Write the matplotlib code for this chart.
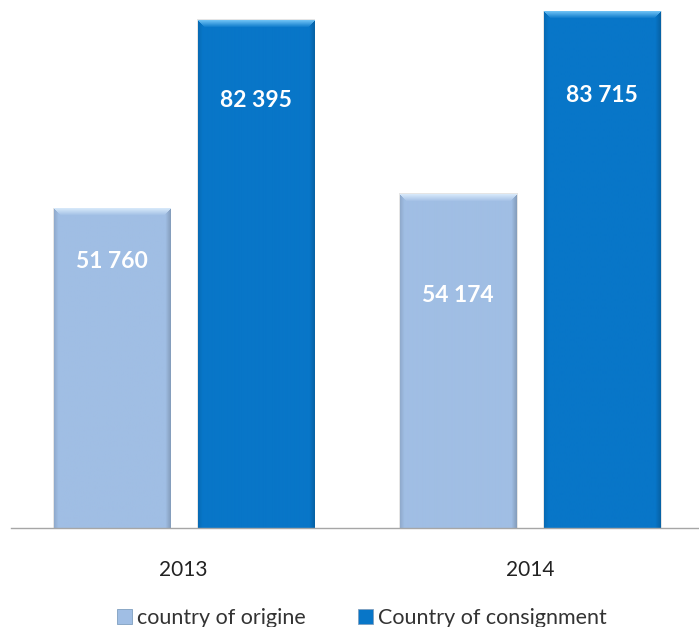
import numpy as np
import matplotlib
matplotlib.use("Agg")
import matplotlib.pyplot as plt
from matplotlib.colors import to_rgb
from matplotlib.patches import Rectangle

# Data
years = ["2013", "2014"]
series_names = ["country of origine", "Country of consignment"]
origin = [51760, 54174]
consignment = [82395, 83715]
label_texts_origin = ["51 760", "54 174"]
label_texts_consignment = ["82 395", "83 715"]

# Styling
colors = ["#A0BEE4", "#0876C8"]
highlights = ["#D6E8FA", "#6CC0F4"]
bar_width = 0.335
offset = 0.208

plt.rcParams["font.family"] = ["Lato", "DejaVu Sans"]

fig = plt.figure(figsize=(6.99, 6.27), dpi=100)
W, H = 699, 627
ax = fig.add_axes([10.5 / W, (H - 528) / H, 693 / W, 524 / H])
ax.set_xlim(-0.5, 1.5)
ax.set_ylim(0, 85000)

x = np.arange(len(years))
bars_o = ax.bar(x - offset, origin, width=bar_width, color=colors[0], zorder=2)
bars_c = ax.bar(x + offset, consignment, width=bar_width, color=colors[1], zorder=2)


def bevel(patch, base, hi):
    """Paint a soft bevel (light top edge, shaded sides) over a bar."""
    x0, y0 = patch.get_x(), patch.get_y()
    w, h = patch.get_width(), patch.get_height()
    (px0, py0), (px1, py1) = ax.transData.transform([(x0, y0), (x0 + w, y0 + h)])
    wpx, hpx = int(round(px1 - px0)), int(round(py1 - py0))
    base = np.array(to_rgb(base))
    hi = np.array(to_rgb(hi))
    dark = base * 0.72
    img = np.tile(base, (hpx, wpx, 1))
    ii, jj = np.mgrid[0:hpx, 0:wpx]
    t, l, r = ii, jj, wpx - 1 - jj
    b = 7.0
    top = (t < b) & (t <= l) & (t <= r)
    f = (1 - t / b)[..., None]
    img = np.where(top[..., None], base * (1 - f) + hi * f, img)
    right = (r < 5) & (r < t)
    f = (0.6 * (1 - r / 5.0))[..., None]
    img = np.where(right[..., None], base * (1 - f) + dark * f, img)
    left = (l < 4) & (l < t)
    f = (0.35 * (1 - l / 4.0))[..., None]
    img = np.where(left[..., None], base * (1 - f) + dark * f, img)
    ax.imshow(img, extent=(x0, x0 + w, y0, y0 + h), origin="upper",
              aspect="auto", interpolation="bilinear", zorder=3)
    # faint drop shadow around the bar
    dx = 2.5 / (px1 - px0) * w
    dy = 2.5 / (py1 - py0) * h
    ax.add_patch(Rectangle((x0 - dx * 0.4, y0), w + dx, h + dy * 0.4,
                           facecolor="#000000", alpha=0.10, lw=0, zorder=1.5))


for p in bars_o:
    bevel(p, colors[0], highlights[0])
for p in bars_c:
    bevel(p, colors[1], highlights[1])
ax.set_xlim(-0.5, 1.5)
ax.set_ylim(0, 85000)

# Value labels placed inside the bars
label_y_origin = [43300, 37700]
label_y_consignment = [69400, 70200]
for xi, yv, txt in zip(x - offset, label_y_origin, label_texts_origin):
    ax.text(xi, yv, txt, ha="center", va="center", color="white",
            fontsize=16.5, fontweight="bold", zorder=5)
for xi, yv, txt in zip(x + offset, label_y_consignment, label_texts_consignment):
    ax.text(xi, yv, txt, ha="center", va="center", color="white",
            fontsize=16.5, fontweight="bold", zorder=5)

# Axes styling
for s in ["top", "right", "left"]:
    ax.spines[s].set_visible(False)
ax.spines["bottom"].set_color("#A6A6A6")
ax.spines["bottom"].set_linewidth(1.0)
ax.spines["bottom"].set_zorder(6)
ax.set_yticks([])
ax.set_xticks(x)
ax.set_xticklabels(years, fontsize=15, color="#222222")
ax.tick_params(axis="x", length=0, pad=23)

# Legend
handles = [Rectangle((0, 0), 1, 1, facecolor=c, edgecolor="#7F9FBF", lw=0.6) for c in colors]
fig.legend(handles, series_names, loc="center", bbox_to_anchor=(362 / W, 1 - 618 / H),
           ncol=2, frameon=False, fontsize=15.5, handlelength=0.7, handleheight=0.7,
           handletextpad=0.25, columnspacing=2.4, labelcolor="#333333")

fig.savefig("out.png", dpi=100)
